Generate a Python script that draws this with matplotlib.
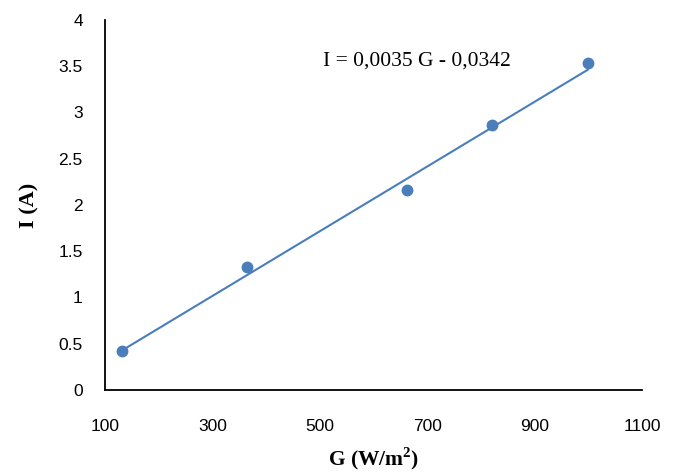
import numpy as np
from matplotlib import pyplot as plt

# irradiance G (W/m2) and current I (A)
G = [131, 364, 662, 820, 999]
I = [0.42, 1.33, 2.16, 2.86, 3.54]

# fit from the chart label
slope = 0.0035
intercept = -0.0342

x_ticks = [100, 300, 500, 700, 900, 1100]
y_ticks = [0, 0.5, 1, 1.5, 2, 2.5, 3, 3.5, 4]
y_tick_labels = ['0', '0.5', '1', '1.5', '2', '2.5', '3', '3.5', '4']

blue = '#4a7ebb'

plt.rcParams['mathtext.fontset'] = 'custom'
plt.rcParams['mathtext.bf'] = 'Liberation Serif:bold'
plt.rcParams['mathtext.rm'] = 'Liberation Serif:bold'

fig = plt.figure(figsize=(6.78, 4.76), dpi=100)
ax = fig.add_axes([0.155, 0.181, 0.792, 0.777])

x_fit = np.array([min(G), max(G)])
y_fit = slope * x_fit + intercept
ax.plot(x_fit, y_fit, color=blue, lw=1.5)
ax.plot(G, I, 'o', color=blue, markersize=7.5)

ax.set_xlim(100, 1100)
ax.set_ylim(0, 4)
ax.set_xticks(x_ticks)
ax.set_yticks(y_ticks)
ax.set_yticklabels(y_tick_labels)
ax.tick_params(length=0, labelsize=12.5)
for lab in ax.get_xticklabels() + ax.get_yticklabels():
    lab.set_family('Liberation Sans')
ax.tick_params(axis='x', pad=21)
ax.tick_params(axis='y', pad=16)

ax.spines['top'].set_visible(False)
ax.spines['right'].set_visible(False)
ax.spines['left'].set_linewidth(1.3)
ax.spines['bottom'].set_linewidth(1.3)

ax.set_xlabel(r'G (W/m$^{\mathbf{2}}$)', family='Liberation Serif', fontweight='bold', fontsize=15.5, labelpad=8)
ax.set_ylabel('I (A)', family='Liberation Serif', fontweight='bold', fontsize=16, labelpad=14)

ax.text(0.405, 0.89, 'I = 0,0035 G - 0,0342', transform=ax.transAxes,
        family='Liberation Serif', fontsize=15.5, va='center')

fig.savefig('out.png', dpi=100)
